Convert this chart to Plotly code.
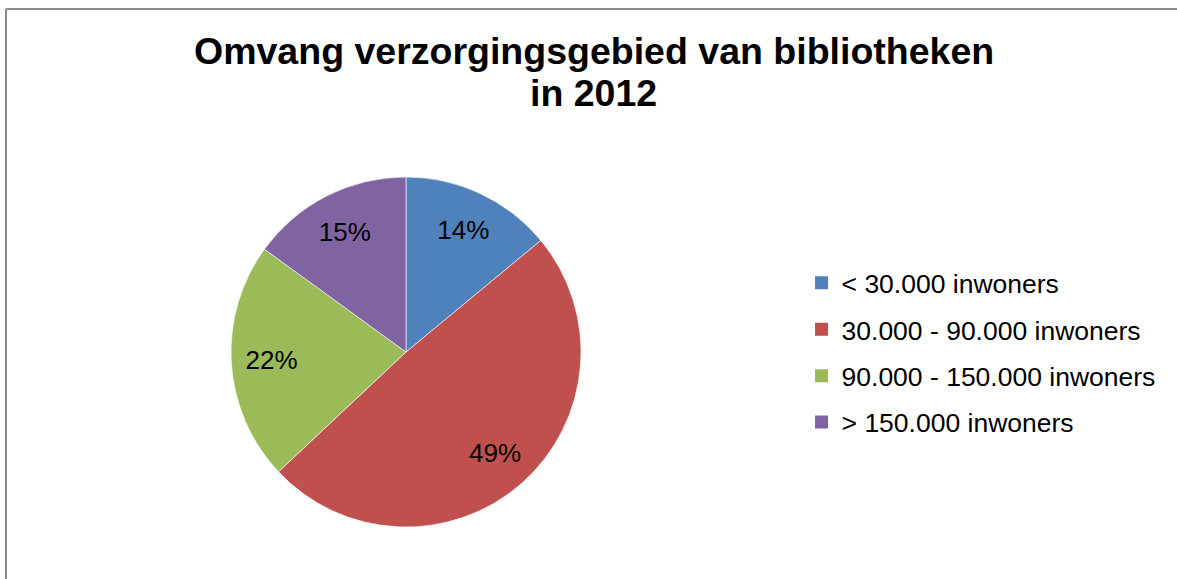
import plotly.graph_objects as go

title_lines = ["Omvang verzorgingsgebied van bibliotheken", "in 2012"]
categories = ["< 30.000 inwoners", "30.000 - 90.000 inwoners",
              "90.000 - 150.000 inwoners", "> 150.000 inwoners"]
values = [14, 49, 22, 15]
colors = ["#4F81BD", "#C0504D", "#9BBB59", "#8064A2"]

W, H = 1177, 579
FONT = "Arial, Liberation Sans, sans-serif"
pie_domain = dict(x=[231 / W, 581 / W], y=[1 - 527 / H, 1 - 177 / H])

fig = go.Figure()
# coloured slices
fig.add_trace(go.Pie(
    labels=categories, values=values, sort=False, direction="clockwise",
    rotation=0, marker=dict(colors=colors, line=dict(color="rgba(255,255,255,0.6)", width=1)),
    textinfo="none", domain=pie_domain, showlegend=False,
    hoverinfo="label+percent",
))
# transparent ring carrying the percentage labels further out in each slice
fig.add_trace(go.Pie(
    labels=categories, values=values, sort=False, direction="clockwise",
    rotation=0, hole=0.54,
    marker=dict(colors=["rgba(0,0,0,0)"] * len(values), line=dict(width=0)),
    textinfo="percent", textposition="inside", insidetextorientation="horizontal",
    textfont=dict(family=FONT, size=26, color="black"),
    domain=pie_domain, showlegend=False, hoverinfo="skip",
))

# legend entries (one group each so spacing matches)
for i, (c, col) in enumerate(zip(categories, colors)):
    fig.add_trace(go.Scatter(
        x=[None], y=[None], mode="markers", name=c, legendgroup=f"g{i}",
        marker=dict(symbol="square", size=13, color=col),
    ))

fig.add_annotation(text="<b>%s</b>" % title_lines[0], x=594 / W, y=1 - 51 / H,
                   xref="paper", yref="paper", xanchor="center", yanchor="middle",
                   showarrow=False, font=dict(family=FONT, size=37.5, color="black"))
fig.add_annotation(text="<b>%s</b>" % title_lines[1], x=594 / W, y=1 - 93 / H,
                   xref="paper", yref="paper", xanchor="center", yanchor="middle",
                   showarrow=False, font=dict(family=FONT, size=37.5, color="black"))

# chart-area frame: only the left and top edges are inside the picture
border = dict(color="#8a8a8a", width=2)
fig.add_shape(type="line", xref="paper", yref="paper",
              x0=6 / W, x1=6 / W, y0=0, y1=1 - 9 / H, line=border, layer="above")
fig.add_shape(type="line", xref="paper", yref="paper",
              x0=6 / W, x1=1, y0=1 - 9 / H, y1=1 - 9 / H, line=border, layer="above")

fig.update_layout(
    width=W, height=H,
    margin=dict(l=0, r=0, t=0, b=0),
    paper_bgcolor="white", plot_bgcolor="white",
    xaxis=dict(visible=False), yaxis=dict(visible=False),
    legend=dict(x=0.681, y=1 - 352.5 / H, xanchor="left", yanchor="middle",
                font=dict(family=FONT, size=26.5, color="black"),
                tracegroupgap=9, traceorder="grouped", bgcolor="rgba(0,0,0,0)"),
    showlegend=True,
)

fig.write_html("out.html", config={"displayModeBar": False},
               post_script="document.body.style.margin='0';document.body.style.overflow='hidden';")
